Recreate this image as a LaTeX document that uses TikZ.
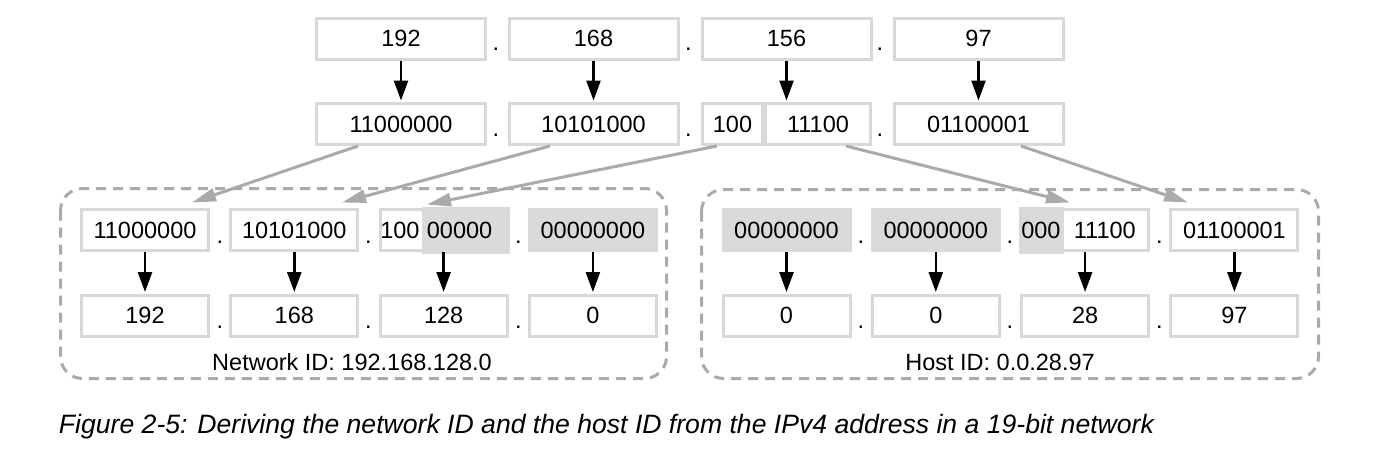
\documentclass[tikz,border=0pt]{standalone}
\usepackage{fontspec}
\setmainfont{Liberation Sans}
\usetikzlibrary{arrows.meta}
\usetikzlibrary{backgrounds}
\usetikzlibrary{calc}
\usetikzlibrary{positioning}

\definecolor{boxgray}{RGB}{216,216,216}
\definecolor{fillgray}{RGB}{217,218,220}
\definecolor{linegray}{RGB}{170,170,170}

\begin{document}
\begin{tikzpicture}[x=1pt, y=-1pt, >={Triangle[length=20pt,width=14pt]},
                    font=\fontsize{23.5}{24}\selectfont,
                    box/.style = {draw=boxgray, line width=3pt, inner sep=0pt, minimum height=41pt},
                    wide/.style = {box, minimum width=169pt},
                    narrow/.style = {box, minimum width=127pt},
                    masked/.style = {narrow, draw=fillgray, fill=fillgray},
                    bare/.style = {inner sep=0pt},
                    convert/.style = {->, line width=2.5pt, shorten >=1.5pt},
                    split/.style = {-{Triangle[length=24pt,width=13pt]}, draw=linegray, fill=linegray, line width=3pt},
                    group/.style = {draw=linegray, line width=3pt, dash pattern=on 10pt off 7pt, rounded corners=22pt}]
  \useasboundingbox (0,0) rectangle (1382,456);

  \node [wide] (t1) at (401,38.5) {192};
  \node [wide] (t2) at (593.5,38.5) {168};
  \node [wide] (t3) at (786.5,38.5) {156};
  \node [wide] (t4) at (978.5,38.5) {97};

  \node [wide] (b1) at (401,124) {11000000};
  \node [wide] (b2) at (593.5,124) {10101000};
  \node [box, minimum width=60pt] (b3l) at (732.5,124) {100};
  \node [box, minimum width=105pt] (b3r) at (818,124) {11100};
  \node [wide] (b4) at (978.5,124) {01100001};

  \foreach \x [count=\i] in {496,688.5,880} {
    \node [bare] (tdot\i) at (\x,49.5) {.};
    \node [bare] (bdot\i) at (\x,135) {.};
  }

  \foreach \i in {1,2,4}
    \draw [convert] (t\i) -- (b\i);
  \draw [convert] (t3) -- (t3 |- b3r.north);

  % network part
  \node [narrow] (n1) at (145,230) {11000000};
  \node [narrow] (n2) at (294.3,230) {10101000};
  \node [narrow] (n3) at (443.6,230) {};
  \node [masked] (n4) at (592.9,230) {00000000};
  \node [bare, right=1.5pt of n3.west] (n3a) {100};
  \node [bare, right=7pt of n3a] (n3b) {00000};

  \node [narrow] (m1) at (145,315.5) {192};
  \node [narrow] (m2) at (294.3,315.5) {168};
  \node [narrow] (m3) at (443.6,315.5) {128};
  \node [narrow] (m4) at (592.9,315.5) {0};

  % host part
  \node [masked] (h1) at (786.5,230) {00000000};
  \node [masked] (h2) at (935.8,230) {00000000};
  \node [narrow] (h3) at (1085.1,230) {};
  \node [narrow] (h4) at (1234.4,230) {01100001};
  \node [bare, right=1pt of h3.west] (h3a) {000};
  \node [bare, right=13pt of h3a] (h3b) {11100};

  \node [narrow] (k1) at (786.5,315.5) {0};
  \node [narrow] (k2) at (935.8,315.5) {0};
  \node [narrow] (k3) at (1085.1,315.5) {28};
  \node [narrow] (k4) at (1234.4,315.5) {97};

  \begin{scope}[on background layer]
    \filldraw [fillgray, line width=3pt] ($(n3a.east |- n3.north)+(3.5,0)$) rectangle (n3.south east);
    \filldraw [fillgray, line width=3pt] (h3.north west) rectangle ($(h3a.east |- h3.south)+(2,0)$);
  \end{scope}

  \foreach \x [count=\i] in {220,368.5,518.5} {
    \node [bare] (ndot\i) at (\x,242) {.};
    \node [bare] (mdot\i) at (\x,327) {.};
  }
  \foreach \x [count=\i] in {861,1010,1159.5} {
    \node [bare] (hdot\i) at (\x,242) {.};
    \node [bare] (kdot\i) at (\x,327) {.};
  }

  \foreach \i in {1,...,4} {
    \draw [convert] (n\i) -- (m\i);
    \draw [convert] (h\i) -- (k\i);
  }

  \draw [split] ([xshift=-43pt]b1.south) -- ([xshift=47pt,yshift=5.5pt]n1.north);
  \draw [split] ([xshift=-43.5pt]b2.south) -- ([xshift=47.7pt,yshift=5.5pt]n2.north);
  \draw [split] ([xshift=-15.5pt]b3l.south) -- ([xshift=-16.6pt,yshift=3.5pt]n3.north);
  \draw [split] ([xshift=28pt]b3r.south) -- ([xshift=-15pt,yshift=5.5pt]h3.north);
  \draw [split] ([xshift=42.5pt]b4.south) -- ([xshift=-46.4pt,yshift=5.5pt]h4.north);

  \draw [group] (60.5,188.5) rectangle (666.5,378.5);
  \draw [group] (701.5,189.5) rectangle (1318.5,378.5);

  \node (netid) at (352,362) {Network ID: 192.168.128.0};
  \node (hostid) at (1000,362) {Host ID: 0.0.28.97};

  \node [font=\fontsize{26.6}{28}\selectfont\itshape] (caption) at (606.5,427)
    {Figure 2-5: Deriving the network ID and the host ID from the IPv4 address in a 19-bit network};
\end{tikzpicture}
\end{document}
